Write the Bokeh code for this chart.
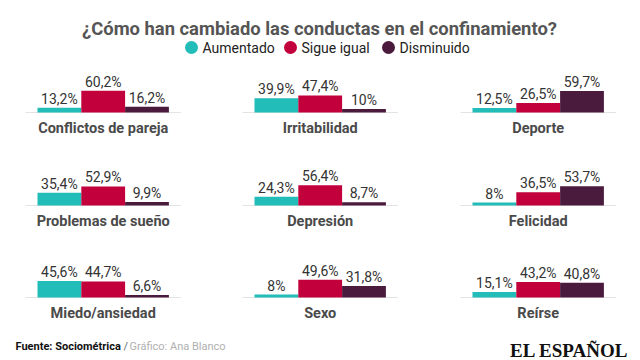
from bokeh.plotting import figure
from bokeh.models import Range1d, ColumnDataSource, LabelSet, Label
from bokeh.layouts import column, row
from bokeh.embed import file_html
from bokeh.resources import INLINE
from bokeh.core.properties import value

# ---------------- data ----------------
title_text = "¿Cómo han cambiado las conductas en el confinamiento?"
series = ["Aumentado", "Sigue igual", "Disminuido"]
colors = ["#22bdb8", "#c2003c", "#4b1b3d"]
categories = ["Conflictos de pareja", "Irritabilidad", "Deporte",
              "Problemas de sueño", "Depresión", "Felicidad",
              "Miedo/ansiedad", "Sexo", "Reírse"]
aumentado = [13.2, 39.9, 12.5, 35.4, 24.3, 8, 45.6, 8, 15.1]
sigue_igual = [60.2, 47.4, 26.5, 52.9, 56.4, 36.5, 44.7, 49.6, 43.2]
disminuido = [16.2, 10, 59.7, 9.9, 8.7, 53.7, 6.6, 31.8, 40.8]
source_text = "Fuente: Sociométrica"
slash_text = "/"
credit_text = "Gráfico: Ana Blanco"
brand_text = "EL ESPAÑOL"

# ---------------- layout / style ----------------
W = 640
HDR_H = 62
FTR_H = 32
PW = 190
GAP = 27
PX_PER_PCT = 0.36
BAR_PX = 43.8
ROW_H = [93, 93, 80]
ROW_TOP = [50, 50, 49]
LEFT_PX = [37, 37, 38]
FONT = value("Roboto")


def fmt(v):
    if float(v) == int(v):
        return f"{int(v)}%"
    return f"{v:.1f}".replace(".", ",") + "%"


def base_fig(w, h, xr, yr):
    p = figure(width=w, height=h, x_range=xr, y_range=yr,
               output_backend="svg", toolbar_location=None, min_border=0,
               x_axis_location=None, y_axis_location=None,
               outline_line_color=None, background_fill_color="white",
               border_fill_color="white")
    p.xgrid.visible = False
    p.ygrid.visible = False
    return p


# header
hdr = base_fig(W, HDR_H, Range1d(0, W), Range1d(HDR_H, 0))
hdr.text(x=[319], y=[28], text=[title_text], text_align="center",
         text_baseline="alphabetic", text_font=FONT, text_font_style="bold",
         text_font_size="18.4px", text_color="#555555")
legend_x = [191, 290, 388]
hdr.scatter(x=legend_x, y=[47, 47, 47], size=13, fill_color=colors,
            line_color=None)
hdr.text(x=[x + 11 for x in legend_x], y=[47.5, 47.5, 47.5], text=series,
         text_align="left", text_baseline="middle", text_font=FONT,
         text_font_size="14px", text_color="#222222")

# panels
rows = []
for r in range(3):
    figs = []
    for c in range(3):
        i = r * 3 + c
        vals = [aumentado[i], sigue_igual[i], disminuido[i]]
        h = ROW_H[r]
        top = ROW_TOP[r]
        x0 = -0.5 - LEFT_PX[c] / BAR_PX
        xr = Range1d(x0, x0 + PW / BAR_PX)
        yr = Range1d(-(h - top) / PX_PER_PCT, top / PX_PER_PCT)
        p = base_fig(PW, h, xr, yr)
        src = ColumnDataSource(dict(x=[0, 1, 2], top=vals, color=colors,
                                    label=[fmt(v) for v in vals]))
        p.segment(x0=[-0.5 - 12 / BAR_PX], y0=[0], x1=[2.5 + 12 / BAR_PX],
                  y1=[0], line_color="#e3e3e3", line_width=1)
        p.vbar(x="x", top="top", bottom=0, width=1.0, fill_color="color",
               line_color=None, source=src)
        p.add_layout(LabelSet(x="x", y="top", text="label", source=src,
                              y_offset=4, text_align="center",
                              text_baseline="alphabetic", text_font=FONT,
                              text_font_size="14px", text_color="#333333"))
        p.add_layout(Label(x=1, y=0, y_offset=-15.5, text=categories[i],
                           text_align="center", text_baseline="alphabetic",
                           text_font="Roboto", text_font_style="bold",
                           text_font_size="14.5px", text_color="#4a4a4a"))
        figs.append(p)
    rows.append(row(*figs, spacing=GAP))

# footer
ftr = base_fig(W, FTR_H, Range1d(0, W), Range1d(FTR_H, 0))
ftr.text(x=[15], y=[18], text=[source_text], text_baseline="middle",
         text_font=FONT, text_font_style="bold", text_font_size="11px",
         text_color="#111111")
ftr.text(x=[123], y=[18], text=[slash_text], text_baseline="middle",
         text_font=FONT, text_font_size="11px", text_color="#666666")
ftr.text(x=[129], y=[18], text=[credit_text], text_baseline="middle",
         text_font=FONT, text_font_size="11px", text_color="#b0b0b0")
ftr.text(x=[628], y=[22], text=[brand_text], text_align="right",
         text_baseline="alphabetic", text_font=value("Liberation Serif"),
         text_font_style="bold", text_font_size="19px", text_color="#111111")

layout = column(hdr, *rows, ftr)
open("out.html", "w").write(file_html(layout, INLINE))
